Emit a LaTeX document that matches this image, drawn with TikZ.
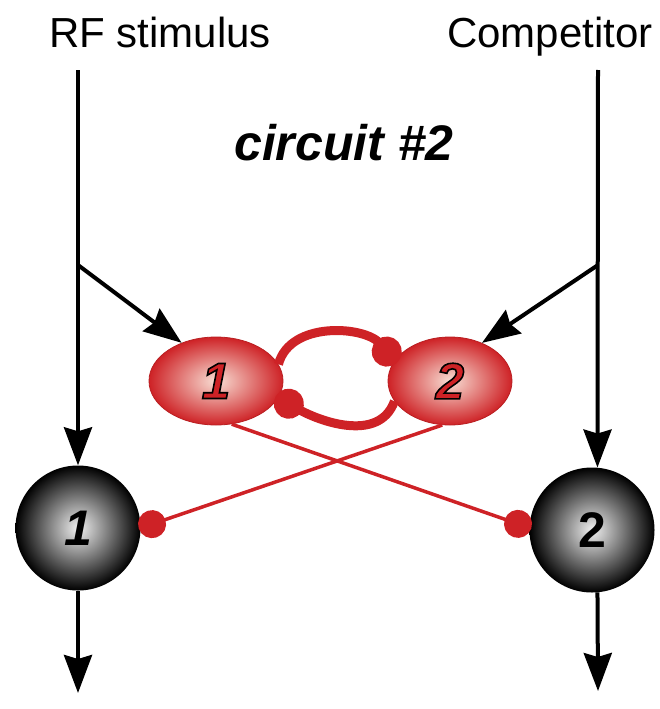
\documentclass[tikz,border=0pt]{standalone}
\usepackage{fontspec}
\setmainfont{Liberation Sans}
\usetikzlibrary{arrows.meta,shapes.geometric,positioning}
\definecolor{cellred}{RGB}{206,34,38}
\definecolor{cellpink}{RGB}{248,222,212}
\definecolor{spheregray}{RGB}{240,240,240}
% outlined digit (fill and stroke)
\newcommand{\outlined}[1]{\special{pdf:code 2 Tr 1.6 w 0 G}#1\special{pdf:code 0 Tr}}
\tikzset{
  axon/.style={line width=4pt, -{Stealth[length=38pt,width=28pt,inset=4pt]}},
  redcell/.style={ellipse, minimum width=134pt, minimum height=88pt, inner sep=0pt,
    draw=cellred!90!black, line width=0.8pt,
    inner color=cellpink, outer color=cellred, font=\fontsize{51}{51}\selectfont\bfseries\itshape},
  blackcell/.style={circle, minimum size=125pt, inner sep=0pt,
    inner color=spheregray, outer color=black, font=\fontsize{50}{50}\selectfont\bfseries},
  inhib/.style={cellred, line width=3.5pt, -{Circle[length=28pt]}, shorten >=-2pt},
  loopinhib/.style={cellred, line width=9pt, -{Circle[length=30pt]}, shorten >=-3pt},
  lbl/.style={font=\fontsize{42}{46}\selectfont, anchor=base},
}
\begin{document}
\begin{tikzpicture}[x=1pt,y=-1pt]
\useasboundingbox (0,0) rectangle (659,709);
% inputs and title
\node[lbl] (rf) at (160,48) {RF stimulus};
\node[lbl] (comp) at (550,48) {Competitor};
\node[font=\fontsize{50}{54}\selectfont\bfseries\itshape, anchor=base] (title) at (344,160) {circuit \#2};
% interneurons
\node[redcell] (n1) at (216,381) {\textcolor{cellred}{\outlined{1}}};
\node[redcell, minimum width=124pt] (n2) at (450,381) {\textcolor{cellred}{\outlined{2}}};
% output cells
\node[blackcell] (s1) at (78,528) {\itshape 1};
\node[blackcell] (s2) at (592,530) {2};
% line ends
\coordinate (rftop) at (78,70);
\coordinate (rfsplit) at (78,265);
\coordinate (comptop) at (598,70);
\coordinate (compsplit) at (598,265);
\coordinate (out1) at (78,693);
\coordinate (out2) at (598,691);
% excitatory inputs
\draw[axon] (rftop) -- (s1.north);
\draw[axon] (rfsplit) -- (n1.132);
\draw[axon] (comptop) -- (s2.85);
\draw[axon] (compsplit) -- (n2.50);
\draw[axon] (s1.south) -- (out1);
\draw[axon] (s2.275) -- (out2);
% mutual inhibition
\draw[loopinhib] (n1.15) to[out=75,in=130] (n2.160);
\draw[loopinhib] (n2.200) to[out=250,in=-30] (n1.345);
% cross inhibition
\draw[inhib] (n1.-70) -- (s2.178);
\draw[inhib] (n2.-100) -- (s1.0);
\end{tikzpicture}
\end{document}
